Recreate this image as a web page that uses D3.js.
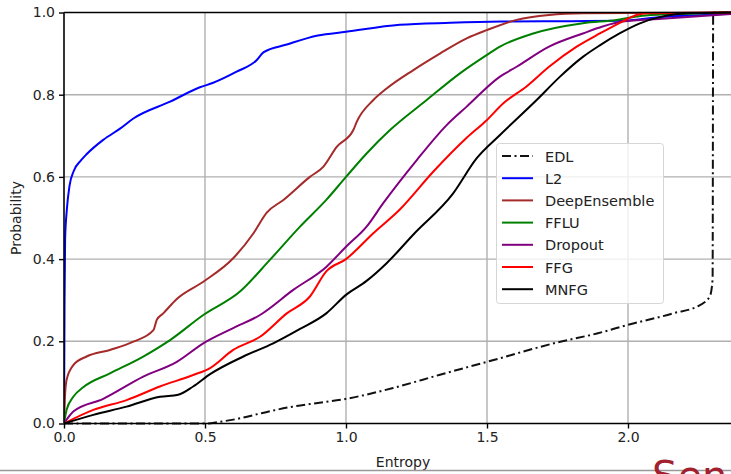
<!DOCTYPE html>
<html>
<head>
<meta charset="utf-8">
<script src="https://cdnjs.cloudflare.com/ajax/libs/d3/7.8.5/d3.min.js"></script>
<style>
  body { margin: 0; background: #fff; }
  text { font-family: "DejaVu Sans", sans-serif; fill: #222; }
</style>
</head>
<body>
<script>
var width = 731,
  height = 474,
  left = 64,
  top_ = 12.5,
  bottom = 423.5;

var xTicks = [0, 0.5, 1.0, 1.5, 2.0],
  yTicks = [0, 0.2, 0.4, 0.6, 0.8, 1.0];

var names = ["EDL", "L2", "DeepEnsemble", "FFLU", "Dropout", "FFG", "MNFG"];
var colors = ["#111", "#0000ff", "#a52a2a", "#008000", "#800080", "#ff0000", "#000"];

// [entropy, probability]
var edl = [[0, 0], [0.5, 0], [0.55, 0.004], [0.62, 0.012], [0.7, 0.025], [0.81, 0.041], [0.9, 0.05],
  [1.0, 0.06], [1.17, 0.087], [1.33, 0.118], [1.5, 0.15], [1.76, 0.199], [1.89, 0.219], [2.0, 0.24],
  [2.16, 0.268], [2.255, 0.288], [2.29, 0.309], [2.30, 0.35], [2.302, 1.0], [2.4, 1.0]];
var l2 = [[0, 0], [0.002, 0.3], [0.004, 0.45], [0.01, 0.52], [0.02, 0.58], [0.035, 0.615], [0.06, 0.64],
  [0.08, 0.655], [0.139, 0.69], [0.2, 0.718], [0.246, 0.742], [0.376, 0.783], [0.482, 0.818],
  [0.529, 0.829], [0.612, 0.856], [0.683, 0.884], [0.707, 0.903], [0.79, 0.922], [0.9, 0.944],
  [1.0, 0.953], [1.19, 0.97], [1.37, 0.975], [1.55, 0.978], [1.8, 0.979], [1.98, 0.98], [2.1, 0.988],
  [2.2, 0.992], [2.4, 0.998]];
var deepEnsemble = [[0, 0], [0.003, 0.06], [0.009, 0.106], [0.033, 0.142], [0.08, 0.163], [0.163, 0.179],
  [0.246, 0.199], [0.317, 0.227], [0.329, 0.252], [0.352, 0.268], [0.4, 0.303], [0.494, 0.345],
  [0.6, 0.402], [0.672, 0.463], [0.719, 0.513], [0.778, 0.544], [0.872, 0.6], [0.92, 0.625],
  [0.967, 0.673], [1.026, 0.714], [1.038, 0.734], [1.097, 0.787], [1.144, 0.815], [1.239, 0.86],
  [1.333, 0.9], [1.428, 0.937], [1.499, 0.957], [1.605, 0.982], [1.72, 0.994], [1.84, 0.998], [2.4, 1.0]];
var fflu = [[0, 0], [0.009, 0.033], [0.033, 0.065], [0.068, 0.088], [0.163, 0.122], [0.281, 0.163],
  [0.376, 0.203], [0.494, 0.264], [0.624, 0.321], [0.73, 0.398], [0.837, 0.479], [0.93, 0.544],
  [1.0, 0.6], [1.073, 0.657], [1.156, 0.714], [1.286, 0.787], [1.404, 0.852], [1.5, 0.897],
  [1.546, 0.917], [1.664, 0.949], [1.84, 0.974], [1.96, 0.982], [2.03, 0.99], [2.08, 0.994], [2.4, 1.0]];
var dropout = [[0, 0], [0.033, 0.029], [0.139, 0.06], [0.281, 0.114], [0.4, 0.15], [0.494, 0.195],
  [0.6, 0.232], [0.695, 0.264], [0.813, 0.325], [0.93, 0.381], [1.0, 0.43], [1.073, 0.479],
  [1.132, 0.536], [1.251, 0.641], [1.357, 0.726], [1.428, 0.771], [1.546, 0.844], [1.605, 0.868],
  [1.72, 0.917], [1.84, 0.949], [1.91, 0.966], [1.98, 0.978], [2.12, 0.985], [2.4, 0.998]];
var ffg = [[0, 0], [0.104, 0.033], [0.222, 0.057], [0.34, 0.09], [0.458, 0.118], [0.518, 0.135],
  [0.6, 0.179], [0.695, 0.211], [0.79, 0.268], [0.872, 0.309], [0.93, 0.37], [1.0, 0.4],
  [1.097, 0.463], [1.19, 0.52], [1.31, 0.613], [1.428, 0.695], [1.499, 0.738], [1.558, 0.779],
  [1.64, 0.82], [1.72, 0.868], [1.818, 0.917], [1.9, 0.949], [1.98, 0.978], [2.03, 0.994],
  [2.07, 0.998], [2.4, 1.0]];
var mnfg = [[0, 0], [0.104, 0.021], [0.222, 0.041], [0.34, 0.065], [0.405, 0.07], [0.458, 0.09],
  [0.518, 0.12], [0.636, 0.163], [0.742, 0.195], [0.837, 0.23], [0.93, 0.268], [1.0, 0.313],
  [1.073, 0.347], [1.144, 0.39], [1.239, 0.46], [1.38, 0.56], [1.463, 0.645], [1.546, 0.702],
  [1.676, 0.787], [1.759, 0.844], [1.84, 0.892], [1.9, 0.92], [1.97, 0.949], [2.04, 0.973],
  [2.12, 0.99], [2.19, 0.997], [2.4, 1.0]];

var series = [edl, l2, deepEnsemble, fflu, dropout, ffg, mnfg];

var svg = d3.select("body")
  .append("svg")
  .attr("width", width)
  .attr("height", height);

var xScale = d3.scaleLinear()
  .domain([0, 2.37])
  .range([left, left + 282 * 2.37]);

var yScale = d3.scaleLinear()
  .domain([0, 1])
  .range([bottom, top_]);

svg.append("defs").append("clipPath")
  .attr("id", "plot")
  .append("rect")
  .attr("x", left)
  .attr("y", top_ - 2)
  .attr("width", width - left)
  .attr("height", bottom - top_ + 4);

//----------grid----------
svg.append("g")
  .selectAll("line")
  .data(xTicks.slice(1))
  .enter()
  .append("line")
  .attr("x1", function (d) { return xScale(d); })
  .attr("x2", function (d) { return xScale(d); })
  .attr("y1", top_)
  .attr("y2", bottom)
  .attr("stroke", "#b0b0b0")
  .attr("stroke-width", 1.4);

svg.append("g")
  .selectAll("line")
  .data(yTicks.slice(1, -1))
  .enter()
  .append("line")
  .attr("x1", left)
  .attr("x2", width)
  .attr("y1", function (d) { return yScale(d); })
  .attr("y2", function (d) { return yScale(d); })
  .attr("stroke", "#b0b0b0")
  .attr("stroke-width", 1.4);

//----------lines----------
var line = d3.line()
  .curve(d3.curveMonotoneX)
  .x(function (d) { return xScale(d[0]); })
  .y(function (d) { return yScale(d[1]); });

svg.append("g")
  .attr("clip-path", "url(#plot)")
  .selectAll("path")
  .data(series)
  .enter()
  .append("path")
  .attr("d", line)
  .attr("fill", "none")
  .attr("stroke", function (d, i) { return colors[i]; })
  .attr("stroke-width", 2)
  .attr("stroke-linejoin", "round")
  .attr("stroke-dasharray", function (d, i) { return i == 0 ? "9,3.5,2,3.5" : null; });

//----------axes----------
var xAxis = d3.axisBottom(xScale)
  .tickValues(xTicks)
  .tickFormat(d3.format(".1f"))
  .tickSize(5)
  .tickPadding(4);

var gx = svg.append("g")
  .attr("transform", "translate(0," + bottom + ")")
  .call(xAxis);

var yAxis = d3.axisLeft(yScale)
  .tickValues(yTicks)
  .tickFormat(d3.format(".1f"))
  .tickSize(5)
  .tickPadding(4);

var gy = svg.append("g")
  .attr("transform", "translate(" + left + ",0)")
  .call(yAxis);

[gx, gy].forEach(function (g) {
  g.select(".domain").remove();
  g.selectAll(".tick line").attr("stroke", "#000").attr("stroke-width", 1.4);
  g.selectAll(".tick text").style("font-size", "14px").attr("fill", "#222");
});

// spines
svg.append("line")
  .attr("x1", left).attr("x2", width)
  .attr("y1", bottom).attr("y2", bottom)
  .attr("stroke", "#000").attr("stroke-width", 1.6);
svg.append("line")
  .attr("x1", left).attr("x2", width)
  .attr("y1", top_).attr("y2", top_)
  .attr("stroke", "#000").attr("stroke-width", 1.6);
svg.append("line")
  .attr("x1", left).attr("x2", left)
  .attr("y1", top_).attr("y2", bottom)
  .attr("stroke", "#000").attr("stroke-width", 1.6);

//----------labels----------
svg.append("text")
  .attr("x", 403)
  .attr("y", 467)
  .attr("text-anchor", "middle")
  .style("font-size", "14px")
  .text("Entropy");

svg.append("text")
  .attr("transform", "rotate(-90)")
  .attr("x", -218)
  .attr("y", 21)
  .attr("text-anchor", "middle")
  .style("font-size", "14px")
  .text("Probability");

//----------legend----------
var legend = svg.append("g");

legend.append("rect")
  .attr("x", 496.5)
  .attr("y", 143.5)
  .attr("width", 167)
  .attr("height", 160)
  .attr("rx", 3)
  .attr("fill", "rgba(255,255,255,0.8)")
  .attr("stroke", "#d6d6d6");

var rows = legend.selectAll("g.row")
  .data(names)
  .enter()
  .append("g")
  .attr("transform", function (d, i) { return "translate(0," + (156 + i * 22.2) + ")"; });

rows.append("line")
  .attr("x1", 502)
  .attr("x2", 533)
  .attr("stroke", function (d, i) { return colors[i]; })
  .attr("stroke-width", 2)
  .attr("stroke-dasharray", function (d, i) { return i == 0 ? "9,3.5,2,3.5" : null; });

rows.append("text")
  .attr("x", 545)
  .attr("y", 5.5)
  .style("font-size", "14.5px")
  .text(function (d) { return d; });

//----------slide bits----------
svg.append("line")
  .attr("x1", 0).attr("x2", width)
  .attr("y1", 470.5).attr("y2", 470.5)
  .attr("stroke", "#999").attr("stroke-width", 1.5);

svg.append("text")
  .attr("x", 652)
  .attr("y", 490)
  .style("font-size", "40px")
  .style("fill", "#a3202f")
  .text("Sen");
</script>
</body>
</html>
